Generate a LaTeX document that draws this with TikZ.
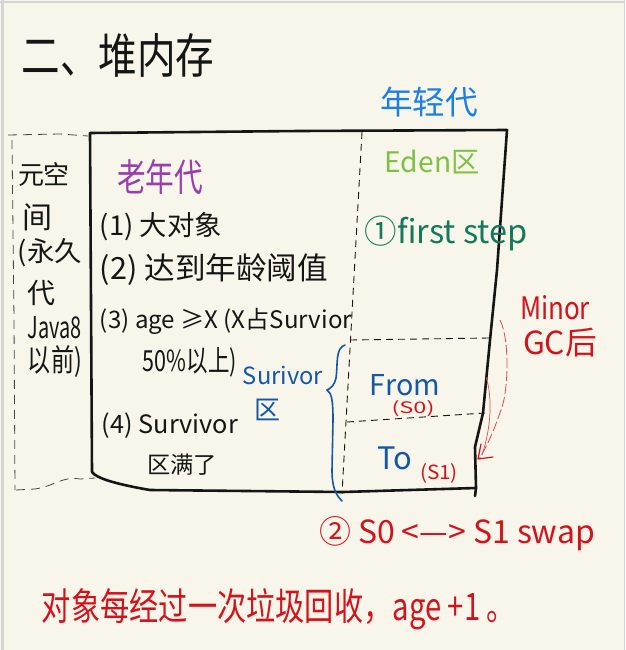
\documentclass[tikz,border=0pt]{standalone}
\usepackage{fontspec}
\usepackage{graphicx}
\setmainfont{Noto Sans CJK SC}
\usetikzlibrary{calc}
\definecolor{paper}{HTML}{F8F6EB}
\definecolor{frame}{HTML}{D6D4D6}
\definecolor{ink}{HTML}{151515}
\definecolor{skyblue}{HTML}{1A80E8}
\definecolor{oldpurple}{HTML}{9A3DAE}
\definecolor{edengreen}{HTML}{7DC143}
\definecolor{stepgreen}{HTML}{14795A}
\definecolor{survblue}{HTML}{1656A8}
\definecolor{penred}{HTML}{D4121B}
\definecolor{arrowred}{HTML}{E2474A}
\newcommand{\fitw}[2]{\resizebox{#1pt}{!}{#2}}
\newcommand{\fitwh}[3]{\resizebox{#1pt}{#2pt}{#3}}
\tikzset{
  txt/.style={inner sep=0pt, outer sep=0pt, anchor=center},
  boxline/.style={draw=ink, line width=2.6pt, line join=round, line cap=round},
  dashline/.style={draw=ink, line width=0.9pt, dash pattern=on 7pt off 5pt},
  metaline/.style={draw=ink!80, line width=0.8pt, dash pattern=on 9pt off 6pt},
}
\begin{document}
\begin{tikzpicture}[x=1pt,y=-1pt]
% page
\fill[paper] (0,0) rectangle (625,650);
\useasboundingbox (0,0) rectangle (625,650);
\draw[frame, line width=2pt] (0,2) -- (625,2);
\draw[frame, line width=3pt] (2,0) -- (2,650);
\draw[frame, line width=1pt] (624.5,0) -- (624.5,650);

% coordinates
\coordinate (tl) at (90,133);
\coordinate (tr) at (507,130);
\coordinate (br) at (476,488);
\coordinate (bl) at (92,472);

% metaspace dashed box
\draw[metaline] (8,135) -- (60,134) -- (88,136);
\draw[metaline] (12,140) -- (14,320) -- (15,490);
\draw[metaline] (16,490) -- (35,489) .. controls (55,486) and (62,476) .. (80,479) -- (95,478);

% main box
\draw[boxline] (tl) -- (300,131) -- (tr) -- (497,270) -- (490,340) -- (483,413) -- (475,447) -- (br)
  -- (343,492) -- (150,490) .. controls (115,484) and (96,478) .. (bl) -- cycle;
\draw[boxline] (br) -- (475,496);

% inner dashed lines
\coordinate (vt) at (362,132);
\coordinate (vb) at (342,494);
\draw[dashline] (vt) -- (vb);
\coordinate (h1l) at (350,340);
\coordinate (h1r) at (489,338);
\draw[dashline] (h1l) -- (h1r);
\coordinate (h2l) at (347,422);
\coordinate (h2r) at (485,413);
\draw[dashline] (h2l) -- (h2r);

% survivor brace
\draw[survblue, line width=1.6pt, line cap=round]
  (345,345) .. controls (335,348) and (338,365) .. (336,378)
  .. controls (334,386) and (331,388) .. (327,390)
  .. controls (332,393) and (333,402) .. (333,420)
  -- (332,470) .. controls (332,488) and (336,495) .. (342,501);

% Minor GC arrows
\draw[arrowred, line width=0.8pt, dash pattern=on 10pt off 3pt]
  (500,320) .. controls (510,340) and (508,390) .. (502,407)
  .. controls (496,425) and (488,445) .. (479,459);
\draw[arrowred, line width=0.7pt]
  (486,377) .. controls (492,395) and (492,425) .. (482,455);
\draw[penred, line width=1.2pt, line cap=round, line join=round]
  (481,444) -- (478,459) -- (493,457);

% texts
\node[txt, ink] (title) at (118,55) {\fitwh{193}{40}{二、堆内存}};
\node[txt, skyblue] (young) at (429,102) {\fitw{98}{年轻代}};
\node[txt, oldpurple] (old) at (160,177) {\fitwh{86}{32}{老年代}};

\node[txt, ink] (m1) at (44,175) {\fitw{52}{元空}};
\node[txt, ink] (m2) at (38,217) {\fitw{30}{间}};
\node[txt, ink] (m3) at (50,253) {\fitw{64}{(永久}};
\node[txt, ink] (m4) at (41,293) {\fitw{28}{代}};
\node[txt, ink] (m5) at (55,328) {\fitwh{54}{22}{Java8}};
\node[txt, ink] (m6) at (55,362) {\fitwh{54}{26}{以前)}};

\node[txt, ink] (l1) at (161,227) {\fitw{122}{(1) 大对象}};
\node[txt, ink] (l2) at (214,270) {\fitw{228}{(2) 达到年龄阈值}};
\node[txt, ink] (l3) at (226,321) {\fitw{252}{(3) age ≥X (X占Survior}};
\node[txt, ink] (l3b) at (190,362) {\fitwh{94}{24}{50\%以上)}};
\node[txt, ink] (l4) at (170,426) {\fitw{136}{(4)  Survivor}};
\node[txt, ink] (l4b) at (182,465) {\fitw{70}{区满了}};

\node[txt, survblue] (surv) at (283,375) {\fitw{80}{Surivor}};
\node[txt, survblue] (survq) at (267,410) {\fitw{26}{区}};

\node[txt, edengreen] (eden) at (432,162) {\fitw{95}{Eden区}};
\node[txt, stepgreen] (first) at (446,233) {\fitw{163}{①first step}};

\node[txt, penred] (minor) at (555,308) {\fitwh{70}{24}{Minor}};
\node[txt, penred] (gc) at (560,343) {\fitw{74}{GC后}};

\node[txt, survblue] (from) at (405,385) {\fitw{70}{From}};
\node[txt, penred] (s0) at (413,409) {\fitwh{43}{13}{(S0)}};
\node[txt, survblue] (to) at (395,458) {\fitw{35}{To}};
\node[txt, penred] (s1) at (439,473) {\fitwh{38}{16}{(S1)}};

\node[txt, penred] (swap) at (457,534) {\fitw{276}{② S0 <—> S1 swap}};
\node[txt, penred] (note) at (279,609) {\fitwh{474}{32}{对象每经过一次垃圾回收，age +1 。}};
\end{tikzpicture}
\end{document}
